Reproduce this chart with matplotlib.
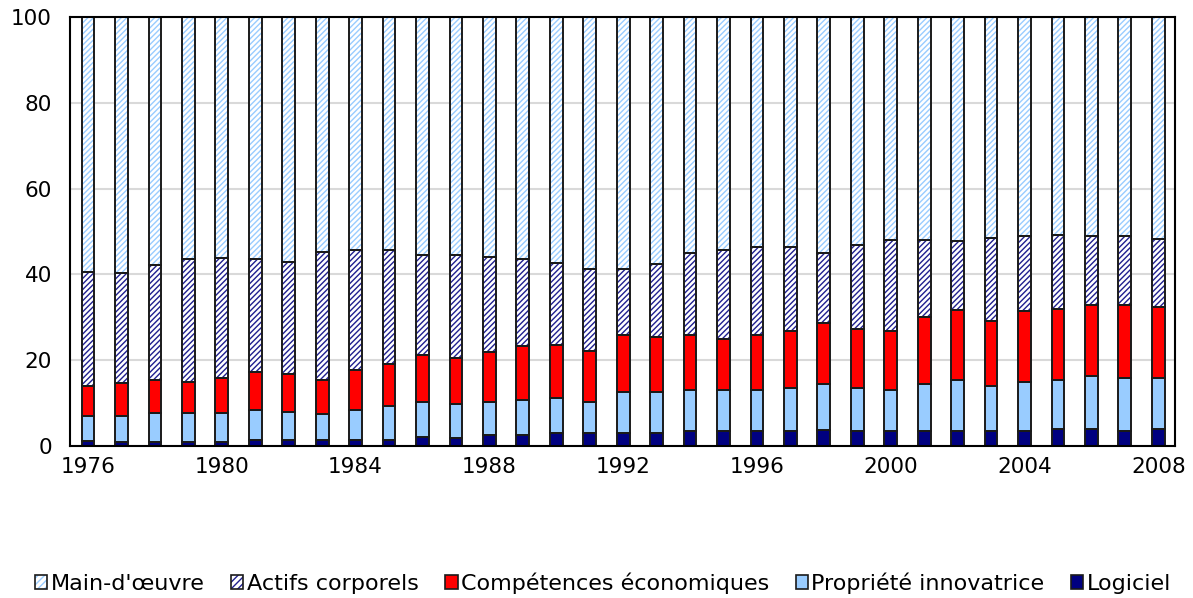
import matplotlib
matplotlib.use("Agg")
import matplotlib.pyplot as plt
import numpy as np
from matplotlib.patches import Patch
from matplotlib.legend_handler import HandlerTuple

years = list(range(1976, 2009))
# cumulative tops
logiciel_top = [1.2, 1.0, 1.0, 1.0, 1.0, 1.5, 1.5, 1.5, 1.5, 1.5, 2.1, 1.9, 2.5, 2.5, 3.0, 3.0, 3.0,
                3.0, 3.5, 3.5, 3.5, 3.5, 3.8, 3.5, 3.5, 3.5, 3.5, 3.5, 3.5, 3.9, 3.9, 3.6, 3.9]
propriete_top = [7.1, 7.1, 7.6, 7.6, 7.6, 8.5, 8.0, 7.5, 8.4, 9.4, 10.3, 9.9, 10.3, 10.8, 11.2, 10.3, 12.5,
                 12.6, 13.1, 13.1, 13.1, 13.5, 14.5, 13.5, 13.1, 14.5, 15.3, 14.0, 14.9, 15.4, 16.3, 15.9, 15.9]
competences_top = [14.0, 14.8, 15.3, 14.9, 15.8, 17.2, 16.7, 15.4, 17.6, 19.0, 21.3, 20.5, 21.9, 23.2, 23.5, 22.2, 25.9,
                   25.4, 25.8, 25.0, 25.8, 26.9, 28.7, 27.3, 26.9, 30.0, 31.8, 29.2, 31.5, 31.9, 32.9, 32.9, 32.4]
actifs_top = [40.6, 40.3, 42.1, 43.5, 43.9, 43.5, 43.0, 45.3, 45.7, 45.8, 44.5, 44.5, 44.0, 43.5, 42.6, 41.2, 41.2,
              42.5, 44.9, 45.8, 46.3, 46.3, 44.9, 46.8, 48.1, 48.1, 47.7, 48.5, 48.9, 49.3, 48.9, 48.9, 48.3]
total_top = [100.0] * len(years)

labels = ["Main-d'œuvre", "Actifs corporels", "Compétences économiques", "Propriété innovatrice", "Logiciel"]
xtick_years = list(range(1976, 2009, 4))

x = np.array(years)
tops = {
    "Logiciel": np.array(logiciel_top),
    "Propriété innovatrice": np.array(propriete_top),
    "Compétences économiques": np.array(competences_top),
    "Actifs corporels": np.array(actifs_top),
    "Main-d'œuvre": np.array(total_top),
}
order = ["Logiciel", "Propriété innovatrice", "Compétences économiques", "Actifs corporels", "Main-d'œuvre"]
styles = {
    "Logiciel": dict(face="#000080", hatch=None, hcol=None),
    "Propriété innovatrice": dict(face="#99CCFF", hatch=None, hcol=None),
    "Compétences économiques": dict(face="#FF0000", hatch=None, hcol=None),
    "Actifs corporels": dict(face="white", hatch="//////", hcol="#1F1F8F"),
    "Main-d'œuvre": dict(face="white", hatch="//////", hcol="#99CCFF"),
}

plt.rcParams['font.family'] = ['DejaVu Sans']
plt.rcParams['hatch.linewidth'] = 1.0

fig = plt.figure(figsize=(11.93, 5.98), dpi=100)
ax = fig.add_axes([70/1193, 1-446/598, (1175-70)/1193, (446-17)/598])

w = 0.38
edge_col = "#1a1a1a"
bottom = np.zeros(len(years))
handles = {}
for name in order:
    top = tops[name]
    h = top - bottom
    st = styles[name]
    if st["hatch"]:
        ax.bar(x, h, w, bottom=bottom, color=st["face"], edgecolor=st["hcol"], hatch=st["hatch"],
               linewidth=0, zorder=2)
    else:
        ax.bar(x, h, w, bottom=bottom, color=st["face"], linewidth=0, zorder=2)
    ax.bar(x, h, w, bottom=bottom, facecolor="none", edgecolor=edge_col, linewidth=1.4, zorder=3)
    if st["hatch"]:
        p1 = Patch(facecolor=st["face"], edgecolor=st["hcol"], hatch="/////", linewidth=0)
    else:
        p1 = Patch(facecolor=st["face"], linewidth=0)
    p2 = Patch(facecolor="none", edgecolor=edge_col, linewidth=1.2)
    handles[name] = (p1, p2)
    bottom = top

ax.set_xlim(1975.46, 2008.5)
ax.set_ylim(0, 100)
ax.set_yticks([0, 20, 40, 60, 80, 100])
ax.set_xticks(xtick_years)
ax.set_xticklabels([str(y) for y in xtick_years])
ax.tick_params(axis='both', length=0, labelsize=15.5)
ax.tick_params(axis='y', pad=13)
ax.tick_params(axis='x', pad=8)
ax.yaxis.grid(True, color="#D9D9D9", linewidth=1.5, zorder=0)
ax.set_axisbelow(True)
for s in ax.spines.values():
    s.set_color("black")
    s.set_linewidth(1.5)
    s.set_zorder(4)

leg = fig.legend([handles[n] for n in labels], labels,
                 handler_map={tuple: HandlerTuple(ndivide=1, pad=0)},
                 loc='center left', bbox_to_anchor=(24/1193, 1-583/598),
                 ncol=5, frameon=False, fontsize=16, borderpad=0,
                 handlelength=0.55, handleheight=0.55, handletextpad=0.15,
                 columnspacing=1.2)

fig.savefig("out.png", dpi=100)
